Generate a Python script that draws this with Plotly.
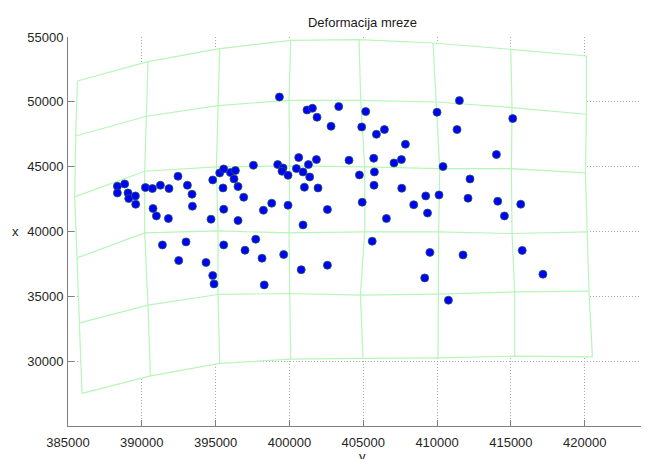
import plotly.graph_objects as go

# Deformed mesh nodes (6 rows x 8 columns), easting (y-axis label "y") and northing ("x")
mesh_e = [
    [385637, 390419, 395276, 400086, 404712, 409725, 414988, 420116],
    [385522, 390311, 395161, 399971, 404827, 409955, 415077, 420116],
    [385454, 390196, 395053, 400018, 405098, 410179, 415036, 420049],
    [385610, 390196, 395161, 399971, 405098, 410111, 415077, 420184],
    [385793, 390419, 395161, 400018, 404807, 410064, 415259, 420293],
    [385948, 390582, 395276, 400086, 404983, 410064, 415259, 420523],
]
mesh_n = [
    [51608, 53104, 54106, 54746, 54800, 54537, 54052, 53535],
    [47368, 48887, 49712, 50120, 50120, 49989, 49557, 49041],
    [42666, 44647, 44978, 45055, 44978, 44855, 44855, 44516],
    [37963, 39890, 40045, 39890, 39967, 39967, 39844, 39967],
    [32952, 34317, 35142, 35219, 35088, 35165, 35342, 35396],
    [27510, 28866, 29822, 30154, 30208, 30254, 30385, 30331],
]

# Points
pts_e = [
    388346, 388841, 388346, 389064, 389112, 389566, 389586, 390243, 390717, 391259,
    391842, 392451, 393088, 393400, 393427, 390758, 390988, 391801, 394802, 394687,
    395500, 395547, 395276, 395547, 396001, 396340, 396245, 396516, 396902, 396516,
    397559, 397715, 396990, 398142, 391395, 392993, 392499, 394348, 395547, 394802,
    394890, 399320, 401190, 401556, 401867, 403337, 405166, 402816, 404895, 405891,
    406433, 407855, 399205, 399564, 399496, 399903, 400627, 400472, 400919, 401285,
    401827, 401373, 401014, 401935, 404035, 405708, 404739, 405756, 405728, 407083,
    407584, 407605, 409231, 398799, 399903, 404929, 408418, 398236, 402572, 400919,
    406568, 409353, 399611, 400797, 402572, 398291, 405606, 409163, 411513, 409996,
    415124, 411351, 414020, 410403, 412231, 410132, 412096, 414108, 415666, 414562,
    409515, 411757, 415768, 417170, 410768,
]
pts_n = [
    43490, 43668, 42974, 42974, 42542, 42743, 42103, 43390, 43313, 43567,
    43313, 44261, 43567, 42874, 41949, 41771, 41201, 41000, 43976, 40946,
    43359, 41717, 44516, 44824, 44547, 44701, 44053, 43467, 42642, 40846,
    45109, 39405, 38557, 37940, 38965, 39197, 37763, 37609, 38965, 36606,
    35959, 50375, 49372, 49503, 48810, 49635, 49249, 48116, 48062, 47499,
    47861, 46728, 45163, 44901, 44647, 44338, 45703, 44855, 44593, 45163,
    45549, 44207, 43413, 43359, 45495, 45649, 44362, 44593, 43567, 45287,
    45549, 43336, 42743, 42180, 42026, 42257, 42064, 41640, 41694, 40507,
    41000, 41424, 38225, 37053, 37400, 35882, 39250, 36421, 50097, 49195,
    48709, 47861, 45934, 45009, 44053, 42820, 42565, 42334, 42103, 41201,
    38387, 38194, 38541, 36706, 34702,
]

x_ticks = [385000, 390000, 395000, 400000, 405000, 410000, 415000, 420000]
y_ticks = [30000, 35000, 40000, 45000, 50000, 55000]

nr, nc = len(mesh_e), len(mesh_e[0])

# outer boundary (white fill hides grid inside mesh)
bx, by = [], []
for j in range(nc):
    bx.append(mesh_e[0][j]); by.append(mesh_n[0][j])
for i in range(1, nr):
    bx.append(mesh_e[i][nc - 1]); by.append(mesh_n[i][nc - 1])
for j in range(nc - 2, -1, -1):
    bx.append(mesh_e[nr - 1][j]); by.append(mesh_n[nr - 1][j])
for i in range(nr - 2, 0, -1):
    bx.append(mesh_e[i][0]); by.append(mesh_n[i][0])
bx.append(bx[0]); by.append(by[0])

lx, ly = [], []
for i in range(nr):
    lx += mesh_e[i] + [None]
    ly += mesh_n[i] + [None]
for j in range(nc):
    lx += [mesh_e[i][j] for i in range(nr)] + [None]
    ly += [mesh_n[i][j] for i in range(nr)] + [None]

fig = go.Figure()
fig.add_trace(go.Scatter(x=bx, y=by, mode="lines", fill="toself",
                         fillcolor="white", line=dict(width=0), hoverinfo="skip"))
fig.add_trace(go.Scatter(x=lx, y=ly, mode="lines",
                         line=dict(color="#b8f5b8", width=1.2), hoverinfo="skip"))
fig.add_trace(go.Scatter(x=pts_e, y=pts_n, mode="markers",
                         marker=dict(color="#0000ff", size=8,
                                     line=dict(color="#1f5a4a", width=0.8))))

font = dict(family="Liberation Sans, Arial, sans-serif", size=13, color="#262626")
W, H = 641, 451
L, T, B = 60, 29, 33
PW, PH = W - L, H - T - B
fig.update_layout(
    width=W, height=H,
    margin=dict(l=L, r=0, t=T, b=B),
    paper_bgcolor="white", plot_bgcolor="white",
    showlegend=False,
    font=font,
    title=dict(text="Deformacija mreze", x=(354.5 - L) / PW, xref="paper", xanchor="center",
               y=1 - 14 / H, yanchor="middle", yref="container",
               font=dict(family="Liberation Sans, Arial, sans-serif", size=13, color="#1a1a1a")),
    annotations=[
        dict(text="y", xref="paper", yref="paper", x=(354 - L) / PW, y=(H - B - 448) / PH,
             xanchor="center", yanchor="middle", showarrow=False, font=font),
        dict(text="x", xref="paper", yref="paper", x=(7 - L) / PW, y=(H - B - 224) / PH,
             xanchor="center", yanchor="middle", showarrow=False, font=font),
    ],
)
fig.update_xaxes(
    range=[385000, 385000 + PW / 14.763 * 1000],
    tickvals=x_ticks, ticktext=[str(v) for v in x_ticks],
    showgrid=True, gridcolor="#a8a8a8", griddash="1px,2px", gridwidth=1,
    zeroline=False, showline=True, linecolor="#808080", linewidth=1,
    ticks="inside", ticklen=6, tickcolor="#808080", ticklabelstandoff=4,
    automargin=False,
)
fig.update_yaxes(
    range=[25000, 55000],
    tickvals=y_ticks, ticktext=[str(v) for v in y_ticks],
    showgrid=True, gridcolor="#a8a8a8", griddash="1px,2px", gridwidth=1,
    zeroline=False, showline=True, linecolor="#808080", linewidth=1,
    ticks="inside", ticklen=6, tickcolor="#808080", ticklabelstandoff=1,
    automargin=False,
)
fig.write_html("out.html")
